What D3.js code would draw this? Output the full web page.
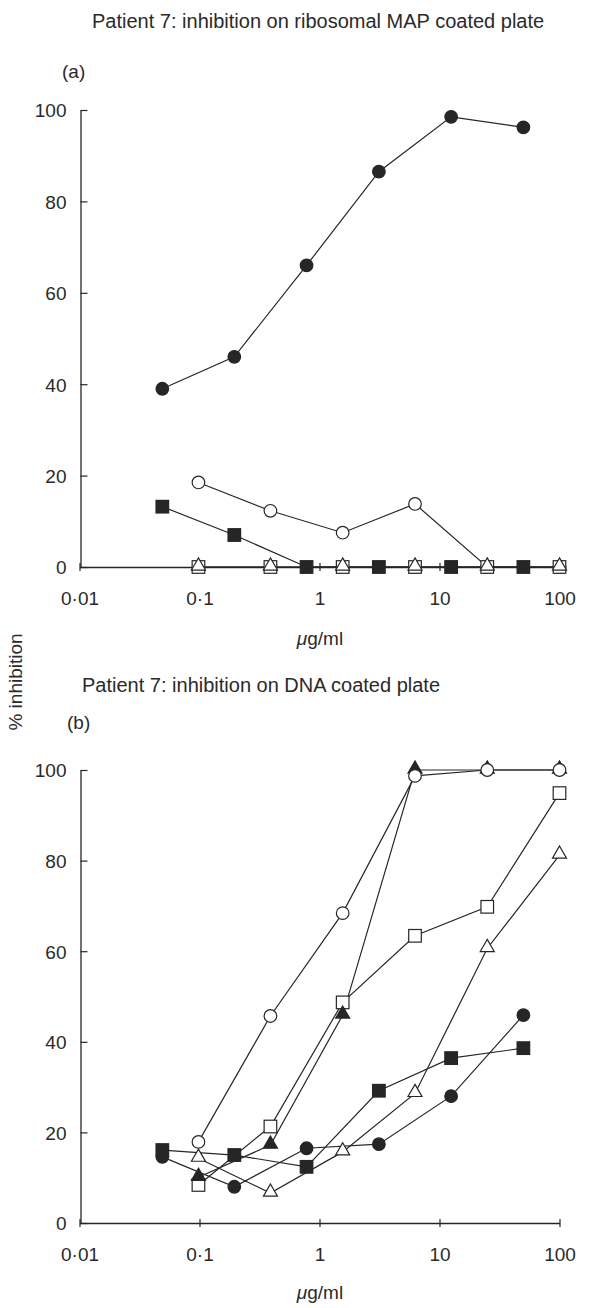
<!DOCTYPE html>
<html><head><meta charset="utf-8">
<script src="https://cdn.jsdelivr.net/npm/d3@7"></script>
<style>
html,body{margin:0;padding:0;background:#fff;}
text{font-family:"Liberation Sans",Arial,Helvetica,sans-serif;fill:#2a2a2a;}
</style></head>
<body>
<script>
// concentrations (µg/ml)
const concA = [0.049, 0.195, 0.78, 3.125, 12.5, 50];
const concB = [0.098, 0.39, 1.56, 6.25, 25, 100];
const xTicks = [0.01, 0.1, 1, 10, 100];
const xTickLabels = ["0·01", "0·1", "1", "10", "100"];
const yTicks = [0, 20, 40, 60, 80, 100];

// Panel (a): ribosomal MAP coated plate
const aFilledCircle = [39, 46, 66, 86.5, 98.5, 96.2];      // at concA
const aFilledSquare = [13.2, 7, 0, 0, 0, 0];               // at concA
const aOpenCircle   = [18.5, 12.3, 7.5, 13.8, 0, 0];        // at concB
const aOpenSquare   = [0, 0, 0, 0, 0, 0];                  // at concB
const aOpenTriangle = [0, 0, 0, 0, 0, 0];                  // at concB

// Panel (b): DNA coated plate
const bOpenCircle     = [17.9, 45.7, 68.4, 98.7, 100, 100];   // at concB
const bOpenSquare     = [8.4, 21.3, 48.7, 63.4, 69.8, 94.9];  // at concB
const bFilledTriangle = [10.1, 17.2, 45.9, 100, 100, 100];    // at concB
const bOpenTriangle   = [14.3, 6.6, 15.7, 28.6, 60.6, 81.2];  // at concB
const bFilledSquare   = [16.1, 15, 12.4, 29.2, 36.4, 38.6];   // at concA
const bFilledCircle   = [14.6, 8.0, 16.5, 17.4, 28, 45.9];    // at concA

const W = 594, H = 1308;
const svg = d3.select("body").append("svg").attr("width", W).attr("height", H);

const x = d3.scaleLog().domain([0.01, 100]).range([79.5, 559.5]);
const ink = "#262626";

function panel(cfg) {
  const y = d3.scaleLinear().domain([0, 100]).range([cfg.y0, cfg.y100]);
  const g = svg.append("g");
  // title + letter
  g.append("text").attr("x", cfg.titleX).attr("y", cfg.titleY)
    .attr("font-size", 20).text(cfg.title);
  g.append("text").attr("x", cfg.letterX).attr("y", cfg.letterY)
    .attr("font-size", 19).text(cfg.letter);

  // axes
  const xAxis = d3.axisBottom(x).tickValues(xTicks).tickSize(0)
    .tickFormat((d, i) => xTickLabels[i]);
  const gx = g.append("g").attr("transform", `translate(0,${cfg.y0})`).call(xAxis);
  gx.select(".domain").attr("stroke", ink).attr("stroke-width", 1.3);
  gx.selectAll(".tick line").remove();
  gx.selectAll(".tick").append("line").attr("y1", -4).attr("y2", 4)
    .attr("stroke", ink).attr("stroke-width", 1.2);
  gx.selectAll(".tick text").attr("dy", null).attr("y", 38)
    .attr("font-size", 19).attr("font-family", null).attr("fill", "#2a2a2a");

  const yAxis = d3.axisLeft(y).tickValues(yTicks).tickSize(0);
  const gy = g.append("g").attr("transform", "translate(80.5,0)").call(yAxis);
  gy.select(".domain").attr("stroke", ink).attr("stroke-width", 1.3);
  gy.selectAll(".tick line").remove();
  gy.selectAll(".tick").append("line").attr("x1", 0).attr("x2", 7)
    .attr("stroke", ink).attr("stroke-width", 1.2);
  gy.selectAll(".tick text").attr("x", -14).attr("dy", "0.36em")
    .attr("font-size", 19).attr("font-family", null).attr("fill", "#2a2a2a");

  // x-axis title
  const t = g.append("text").attr("x", 320).attr("y", cfg.unitY)
    .attr("text-anchor", "middle").attr("font-size", 19);
  t.append("tspan").attr("font-style", "italic").text("μ");
  t.append("tspan").text("g/ml");

  const line = d3.line().x(d => x(d[0])).y(d => y(d[1]));
  cfg.series.forEach(s => {
    const pts = s.conc.map((c, i) => [c, s.vals[i]]);
    g.append("path").datum(pts).attr("d", line)
      .attr("fill", "none").attr("stroke", ink).attr("stroke-width", 1.2);
  });
  cfg.series.forEach(s => {
    const pts = s.conc.map((c, i) => [c, s.vals[i]]);
    const fill = s.filled ? ink : "#fff";
    const sel = g.selectAll(null).data(pts).enter();
    if (s.shape === "circle") {
      sel.append("circle").attr("cx", d => x(d[0])).attr("cy", d => y(d[1])).attr("r", 6.3)
        .attr("fill", fill).attr("stroke", ink).attr("stroke-width", 1.2);
    } else if (s.shape === "square") {
      sel.append("rect").attr("x", d => x(d[0]) - 6.3).attr("y", d => y(d[1]) - 6.3)
        .attr("width", 12.6).attr("height", 12.6)
        .attr("fill", fill).attr("stroke", ink).attr("stroke-width", 1.2);
    } else {
      const tri = d3.symbol().type(d3.symbolTriangle).size(85);
      sel.append("path").attr("d", tri)
        .attr("transform", d => `translate(${x(d[0])},${y(d[1]) - 1})`)
        .attr("fill", fill).attr("stroke", ink).attr("stroke-width", 1.2);
    }
  });
}

panel({
  y0: 567, y100: 110,
  title: "Patient 7: inhibition on ribosomal MAP coated plate", titleX: 92, titleY: 28,
  letter: "(a)", letterX: 62, letterY: 78, unitY: 645,
  series: [
    {conc: concA, vals: aFilledCircle, shape: "circle", filled: true},
    {conc: concA, vals: aFilledSquare, shape: "square", filled: true},
    {conc: concB, vals: aOpenCircle, shape: "circle", filled: false},
    {conc: concB, vals: aOpenSquare, shape: "square", filled: false},
    {conc: concB, vals: aOpenTriangle, shape: "triangle", filled: false}
  ]
});

panel({
  y0: 1223, y100: 770,
  title: "Patient 7: inhibition on DNA coated plate", titleX: 82, titleY: 692,
  letter: "(b)", letterX: 67, letterY: 729, unitY: 1299,
  series: [
    {conc: concA, vals: bFilledCircle, shape: "circle", filled: true},
    {conc: concA, vals: bFilledSquare, shape: "square", filled: true},
    {conc: concB, vals: bOpenTriangle, shape: "triangle", filled: false},
    {conc: concB, vals: bOpenSquare, shape: "square", filled: false},
    {conc: concB, vals: bFilledTriangle, shape: "triangle", filled: true},
    {conc: concB, vals: bOpenCircle, shape: "circle", filled: false}
  ]
});

// shared y-axis title
svg.append("text").attr("transform", "translate(22,682) rotate(-90)")
  .attr("text-anchor", "middle").attr("font-size", 19).text("% inhibition");
</script>
</body></html>
